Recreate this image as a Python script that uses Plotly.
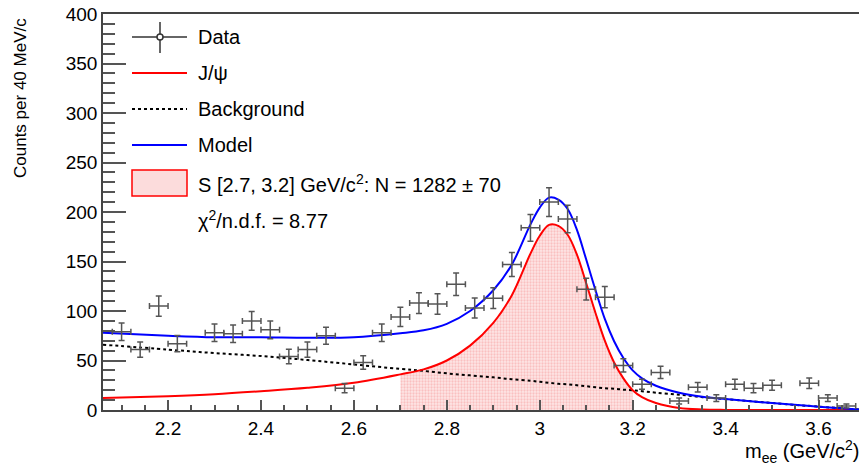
import plotly.graph_objects as go

# binned data (40 MeV bins)
data_x = [2.10, 2.14, 2.18, 2.22, 2.30, 2.34, 2.38, 2.42, 2.46, 2.50, 2.54, 2.58, 2.62,
          2.66, 2.70, 2.74, 2.78, 2.82, 2.86, 2.90, 2.94, 2.98, 3.02, 3.06, 3.10, 3.14,
          3.18, 3.22, 3.26, 3.30, 3.34, 3.38, 3.42, 3.46, 3.50, 3.58, 3.62, 3.66]
data_y = [79, 61, 105, 67, 78, 77, 90, 81, 54, 61, 75, 22, 48,
          78, 94, 108, 107, 127, 103, 113, 147, 184, 210, 193, 122, 114,
          45, 26, 38, 9, 23, 12, 26, 22, 25, 27, 12, 4]
data_err = [8.9, 7.8, 10.2, 8.2, 8.8, 8.8, 9.5, 9.0, 7.3, 7.8, 8.7, 4.7, 6.9,
            8.8, 9.7, 10.4, 10.3, 11.3, 10.1, 10.6, 12.1, 13.6, 14.5, 13.9, 11.0, 10.7,
            6.7, 5.1, 6.2, 3.0, 4.8, 3.5, 5.1, 4.7, 5.0, 5.2, 3.5, 2.0]
bin_half = 0.02

# fit curves
curve_x = [2.06, 2.2, 2.3, 2.4, 2.5, 2.6, 2.7, 2.75, 2.8, 2.85, 2.9, 2.94, 2.98, 3.0,
           3.02, 3.04, 3.06, 3.08, 3.1, 3.12, 3.14, 3.16, 3.18, 3.2, 3.22, 3.25, 3.3,
           3.35, 3.4, 3.5, 3.6, 3.7]
sig_vals = [12, 14, 16, 19, 22.5, 27.5, 36, 41, 50, 65, 88, 116, 158, 176,
            187, 186, 177, 157, 128, 98, 70, 48, 32, 20, 13, 7, 2,
            0.5, 0.1, 0, 0, 0]
bkg_vals = [66, 61, 57.5, 54.5, 50.5, 46, 41.5, 39.5, 37, 35, 33, 31, 29.5, 28.5,
            27.5, 26.5, 26, 25, 24, 23, 22, 21.5, 20.5, 20, 19, 17.5, 15.5,
            13, 11, 7, 3.4, 0]
model_vals = [78, 75, 73.5, 73.5, 73, 73.5, 77.5, 80.5, 87, 100, 121, 147, 187.5, 204.5,
              214.5, 212.5, 203, 182, 152, 121, 92, 69.5, 52.5, 40, 32, 24.5, 17.5,
              13.5, 11.1, 7, 3.4, 0]

win_lo, win_hi = 2.7, 3.2
legend_labels = ["Data", "J/ψ", "Background", "Model",
                 "S [2.7, 3.2] GeV/c<sup>2</sup>: N = 1282 ± 70",
                 "χ<sup>2</sup>/n.d.f. = 8.77"]

# page has an 8px body margin, so the figure is shrunk and shifted to compensate
PAGE_OFF = 8
W, H = 867 - PAGE_OFF, 467 - PAGE_OFF
PLOT_L, PLOT_R, PLOT_T, PLOT_B = 103, 865, 14, 410   # plot frame in window pixels
L, T = PLOT_L - PAGE_OFF, PLOT_T - PAGE_OFF
R = W + PAGE_OFF - PLOT_R
B = H + PAGE_OFF - PLOT_B
FONT = "Liberation Sans, Arial, sans-serif"


def px(x):
    return (x - PLOT_L) / (PLOT_R - PLOT_L)


def py(y):
    return (PLOT_B - y) / (PLOT_B - PLOT_T)


fig = go.Figure()

fill_x = [x for x in curve_x if win_lo <= x <= win_hi]
fill_y = [s for x, s in zip(curve_x, sig_vals) if win_lo <= x <= win_hi]
fig.add_trace(go.Scatter(
    x=fill_x, y=fill_y, mode="lines", line=dict(width=0, shape="spline"),
    fill="tozeroy", fillcolor="rgba(255,215,215,1)",
    fillpattern=dict(shape=".", bgcolor="#fde6e6", fgcolor="#f59a9a", size=3, solidity=0.45),
    hoverinfo="skip"))

fig.add_trace(go.Scatter(x=curve_x, y=bkg_vals, mode="lines",
                         line=dict(color="black", width=2, dash="dot", shape="spline")))
fig.add_trace(go.Scatter(x=curve_x, y=sig_vals, mode="lines",
                         line=dict(color="#ff0000", width=2, shape="spline")))
fig.add_trace(go.Scatter(x=curve_x, y=model_vals, mode="lines",
                         line=dict(color="#0000ff", width=2, shape="spline")))

fig.add_trace(go.Scatter(
    x=data_x, y=data_y, mode="markers",
    marker=dict(size=1, color="#555"),
    error_y=dict(type="data", array=data_err, color="#555", thickness=1.5, width=3),
    error_x=dict(type="constant", value=bin_half, color="#555", thickness=1.5, width=3)))

# custom legend (ROOT style)
rows = [37, 73, 109, 145, 183, 219]
sx0, sx1, tx = 132, 187, 196
shapes = []
ln = dict(color="#333", width=1.5)
shapes.append(dict(type="line", xref="paper", yref="paper", x0=px(sx0), x1=px(sx1),
                   y0=py(rows[0]), y1=py(rows[0]), line=ln))
shapes.append(dict(type="line", xref="paper", yref="paper", x0=px(160), x1=px(160),
                   y0=py(22), y1=py(53), line=ln))
shapes.append(dict(type="circle", xref="paper", yref="paper", x0=px(157), x1=px(163),
                   y0=py(34), y1=py(40), line=ln, fillcolor="white"))
shapes.append(dict(type="line", xref="paper", yref="paper", x0=px(sx0), x1=px(sx1),
                   y0=py(rows[1]), y1=py(rows[1]), line=dict(color="#ff0000", width=2)))
shapes.append(dict(type="line", xref="paper", yref="paper", x0=px(sx0), x1=px(sx1),
                   y0=py(rows[2]), y1=py(rows[2]), line=dict(color="black", width=2, dash="dot")))
shapes.append(dict(type="line", xref="paper", yref="paper", x0=px(sx0), x1=px(sx1),
                   y0=py(rows[3]), y1=py(rows[3]), line=dict(color="#0000ff", width=2)))
shapes.append(dict(type="rect", xref="paper", yref="paper", x0=px(sx0), x1=px(sx1),
                   y0=py(rows[4] - 13), y1=py(rows[4] + 13),
                   line=dict(color="#ff0000", width=1.5), fillcolor="#fcdcdc"))

annotations = []
for r, lab in zip(rows, legend_labels):
    annotations.append(dict(text=lab, xref="paper", yref="paper", x=px(tx), y=py(r),
                            xanchor="left", yanchor="middle", showarrow=False,
                            font=dict(size=20, color="black", family=FONT)))

annotations.append(dict(text="Counts per 40 MeV/c", xref="paper", yref="paper",
                        x=px(20), y=py(16), xanchor="center", yanchor="top",
                        textangle=-90, showarrow=False,
                        font=dict(size=17, color="black", family=FONT)))
annotations.append(dict(text="m<sub>ee</sub> (GeV/c<sup>2</sup>)", xref="paper", yref="paper",
                        x=px(862), y=py(451), xanchor="right", yanchor="middle",
                        showarrow=False, font=dict(size=20, color="black", family=FONT)))

fig.update_layout(
    width=W, height=H, margin=dict(l=L, r=R, t=T, b=B),
    paper_bgcolor="white", plot_bgcolor="white", showlegend=False,
    font=dict(family=FONT, size=19, color="black"),
    shapes=shapes, annotations=annotations,
    xaxis=dict(range=[2.06, 3.7], tick0=2.2, dtick=0.2, ticks="inside", ticklen=10,
               tickcolor="#555", tickwidth=1.5, showline=True, mirror=True,
               linecolor="#444", linewidth=1.5, showgrid=False, zeroline=False,
               automargin=False,
               minor=dict(dtick=0.05, ticks="inside", ticklen=5, tickcolor="#555", tickwidth=1.5),
               tickfont=dict(size=19)),
    yaxis=dict(range=[0, 400], dtick=50, ticks="inside", ticklen=23,
               tickcolor="#555", tickwidth=1.5, showline=True, mirror=True,
               linecolor="#444", linewidth=1.5, showgrid=False, zeroline=False,
               ticklabeloverflow="allow", automargin=False,
               minor=dict(dtick=10, ticks="inside", ticklen=12, tickcolor="#555", tickwidth=1.5),
               tickfont=dict(size=19)),
)

fig.write_html("out.html")
